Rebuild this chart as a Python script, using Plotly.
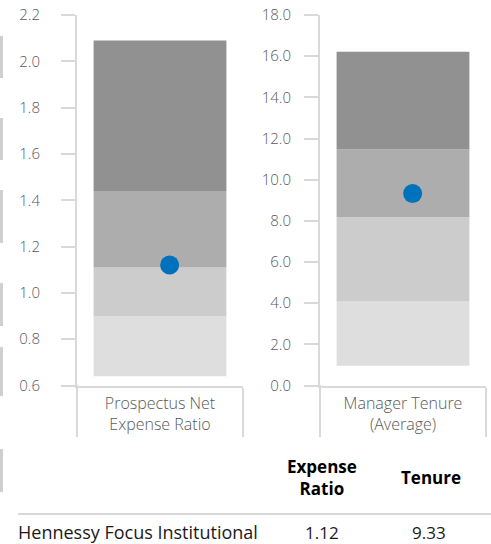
import plotly.graph_objects as go

W, H = 491, 544

# ---- data ----
metric_labels = ["Prospectus Net<br>Expense Ratio", "Manager Tenure<br>(Average)"]
expense_breaks = [0.64, 0.90, 1.11, 1.44, 2.09]      # quartile band edges
tenure_breaks = [0.96, 4.10, 8.18, 11.47, 16.21]
fund_name = "Hennessy Focus Institutional"
fund_expense = 1.12
fund_tenure = 9.33
table_headers = ["Expense<br>Ratio", "Tenure"]
table_values = ["1.12", "9.33"]

# ---- style ----
band_colors = ["#dedede", "#cccccc", "#adadad", "#919191"]
dot_color = "#0072BC"
axis_color = "#d9d9d9"
text_color = "#595959"
FONT = "Open Sans"
DOT_OFFSET = 0.058

def px(x):
    return x / W

def py(y):
    return 1 - y / H

fig = go.Figure()

def add_panel(breaks, value, xa, ya):
    for i in range(len(breaks) - 1):
        fig.add_trace(go.Bar(
            x=[0], y=[breaks[i + 1] - breaks[i]], base=[breaks[i]],
            width=0.8, marker=dict(color=band_colors[i], line=dict(width=0)),
            xaxis=xa, yaxis=ya, showlegend=False, hoverinfo="skip"))
    fig.add_trace(go.Scatter(
        x=[DOT_OFFSET], y=[value], mode="markers",
        marker=dict(color=dot_color, size=19, line=dict(width=0)),
        xaxis=xa, yaxis=ya, showlegend=False))

add_panel(expense_breaks, fund_expense, "x", "y")
add_panel(tenure_breaks, fund_tenure, "x2", "y2")

ydom = [py(385.5), py(15)]
common_y = dict(showline=True, linecolor=axis_color, linewidth=2,
                ticks="outside", ticklen=14, tickwidth=2, tickcolor=axis_color,
                showgrid=False, zeroline=False, tickformat=".1f",
                tickfont=dict(family=FONT, size=15, color=text_color, weight=300),
                domain=ydom, automargin=False)
common_x = dict(showline=True, linecolor=axis_color, linewidth=2,
                ticks="", showgrid=False, zeroline=False, range=[-0.5, 0.5],
                tickfont=dict(family=FONT, size=16, color=text_color, weight=300),
                tickvals=[0], automargin=False)

fig.update_layout(
    width=W, height=H, margin=dict(l=0, r=0, t=0, b=0),
    paper_bgcolor="white", plot_bgcolor="white", barmode="overlay",
    xaxis=dict(common_x, domain=[px(77), px(243)], anchor="y",
               ticktext=[metric_labels[0]], ticklabelstandoff=2),
    yaxis=dict(common_y, range=[0.6, 2.2], dtick=0.2, tick0=0.6, anchor="x",
               ticklabelstandoff=18),
    xaxis2=dict(common_x, domain=[px(320), px(486)], anchor="y2",
                ticktext=[metric_labels[1]], ticklabelstandoff=2),
    yaxis2=dict(common_y, range=[0, 18], dtick=2, tick0=0, anchor="x2",
                ticklabelstandoff=10),
)

shapes = []
def vline(x, y0, y1, color=axis_color, width=2):
    shapes.append(dict(type="line", xref="paper", yref="paper",
                       x0=px(x), x1=px(x), y0=py(y0), y1=py(y1),
                       line=dict(color=color, width=width)))

vline(77, 385, 437)
vline(243, 388, 437)
vline(320, 385, 437)
vline(486, 388, 437)
shapes.append(dict(type="line", xref="paper", yref="paper",
                   x0=px(18), x1=1, y0=py(514), y1=py(514),
                   line=dict(color=axis_color, width=2)))
# cropped fragments at the left edge
for (a, b) in [(36, 78), (118, 160), (190, 243), (283, 326), (347, 396), (449, 492)]:
    shapes.append(dict(type="rect", xref="paper", yref="paper",
                       x0=0, x1=px(3), y0=py(b), y1=py(a),
                       fillcolor="#cfcfcf", line=dict(width=0)))
fig.update_layout(shapes=shapes)

ann = []
hdr_x = [322, 431]
val_x = [322, 429]
for t, x in zip(table_headers, hdr_x):
    ann.append(dict(text="<b>" + t + "</b>", x=px(x), y=py(477), xref="paper", yref="paper",
                    showarrow=False, xanchor="center", yanchor="middle", align="center",
                    font=dict(family=FONT, size=17, color="#000000")))
for t, x in zip(table_values, val_x):
    ann.append(dict(text=t, x=px(x), y=py(532), xref="paper", yref="paper",
                    showarrow=False, xanchor="center", yanchor="middle",
                    font=dict(family=FONT, size=17, color="#1a1a1a")))
ann.append(dict(text=fund_name, x=px(16), y=py(532), xref="paper", yref="paper",
                showarrow=False, xanchor="left", yanchor="middle",
                font=dict(family=FONT, size=18, color="#1a1a1a")))
fig.update_layout(annotations=ann)

fig.write_html("out.html")
